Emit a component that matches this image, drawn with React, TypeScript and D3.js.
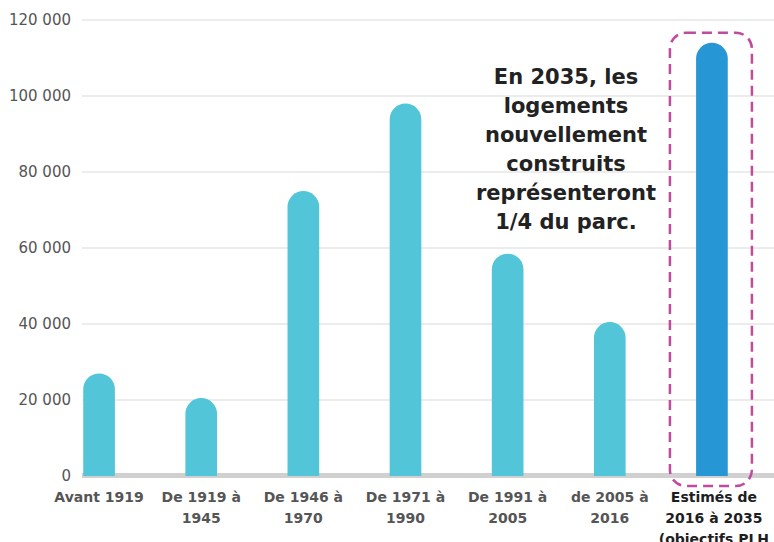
import React, { useEffect, useRef } from "react";
import * as d3 from "d3";

const periods = [
  ["Avant 1919"],
  ["De 1919 à", "1945"],
  ["De 1946 à", "1970"],
  ["De 1971 à", "1990"],
  ["De 1991 à", "2005"],
  ["de 2005 à", "2016"],
  ["Estimés de", "2016 à 2035", "(objectifs PLH"],
];
const logements = [27000, 20500, 75000, 98000, 58500, 40500, 114000];
const yTicks = [0, 20000, 40000, 60000, 80000, 100000, 120000];
const note = [
  "En 2035, les",
  "logements",
  "nouvellement",
  "construits",
  "représenteront",
  "1/4 du parc.",
];

const W = 774;
const H = 542;

export default function App() {
  const ref = useRef<SVGSVGElement>(null);

  useEffect(() => {
    const svg = d3.select(ref.current);
    svg.selectAll("*").remove();

    const font = "'DejaVu Sans', sans-serif";
    const x = d3.scaleBand<number>().domain(d3.range(logements.length)).range([48, 763]).paddingInner(0.69).paddingOuter(0.345);
    const y = d3.scaleLinear().domain([0, 120000]).range([476, 20]);
    const last = logements.length - 1;

    // grid
    svg.selectAll(".grid").data(yTicks.slice(1)).join("line").attr("class", "grid")
      .attr("x1", 82).attr("x2", W)
      .attr("y1", d => y(d)).attr("y2", d => y(d))
      .attr("stroke", "#d9d9d9").attr("stroke-width", 1.2);

    // y labels
    svg.selectAll(".ylab").data(yTicks).join("text").attr("class", "ylab")
      .attr("x", 71).attr("y", d => y(d) + 5)
      .attr("text-anchor", "end")
      .style("font-family", font).style("font-size", "15px").style("fill", "#555")
      .text(d => d3.format(",")(d).replace(/,/g, " "));

    // baseline
    svg.append("rect").attr("x", 82).attr("y", y(0) - 3).attr("width", W - 82).attr("height", 5)
      .attr("fill", "#d0d0d0");

    // bars with rounded tops
    const bw = x.bandwidth();
    const r = bw / 2;
    svg.selectAll(".bar").data(logements).join("path").attr("class", "bar")
      .attr("d", (d, i) => {
        const x0 = x(i)!;
        const top = y(d);
        return `M${x0},${y(0)} L${x0},${top + r} A${r},${r} 0 0 1 ${x0 + bw},${top + r} L${x0 + bw},${y(0)} Z`;
      })
      .attr("fill", (d, i) => (i === last ? "#2696d4" : "#52c5d8"));

    // dashed highlight box
    const cx = x(last)! + bw / 2;
    svg.append("rect")
      .attr("x", cx - 42).attr("y", y(logements[last]) - 10)
      .attr("width", 82).attr("height", y(0) + 10 - (y(logements[last]) - 10))
      .attr("rx", 16).attr("ry", 16)
      .attr("fill", "none").attr("stroke", "#c04a9e").attr("stroke-width", 2.5)
      .attr("stroke-dasharray", "10 6");

    // x labels
    const lab = svg.selectAll(".xlab").data(periods).join("text").attr("class", "xlab")
      .attr("text-anchor", "middle")
      .style("font-family", font).style("font-size", "14px").style("font-weight", "bold")
      .style("fill", (d, i) => (i === last ? "#1e1e1e" : "#555"));
    lab.selectAll("tspan").data(d => d).join("tspan")
      .attr("x", function () {
        const i = periods.indexOf(d3.select(this.parentNode as any).datum() as string[]);
        return x(i)! + bw / 2 + (i === last ? 2 : 0);
      })
      .attr("y", (d, j) => 502 + j * 21)
      .text(d => d);

    // annotation
    svg.selectAll(".note").data(note).join("text").attr("class", "note")
      .attr("x", 566).attr("y", (d, i) => 84 + i * 29)
      .attr("text-anchor", "middle")
      .style("font-family", font).style("font-size", "21px").style("font-weight", "bold")
      .style("fill", "#222")
      .text(d => d);
  }, []);

  return (
    <svg ref={ref} width={W} height={H}
      style={{ position: "absolute", left: 0, top: 0, background: "#fff" }} />
  );
}
